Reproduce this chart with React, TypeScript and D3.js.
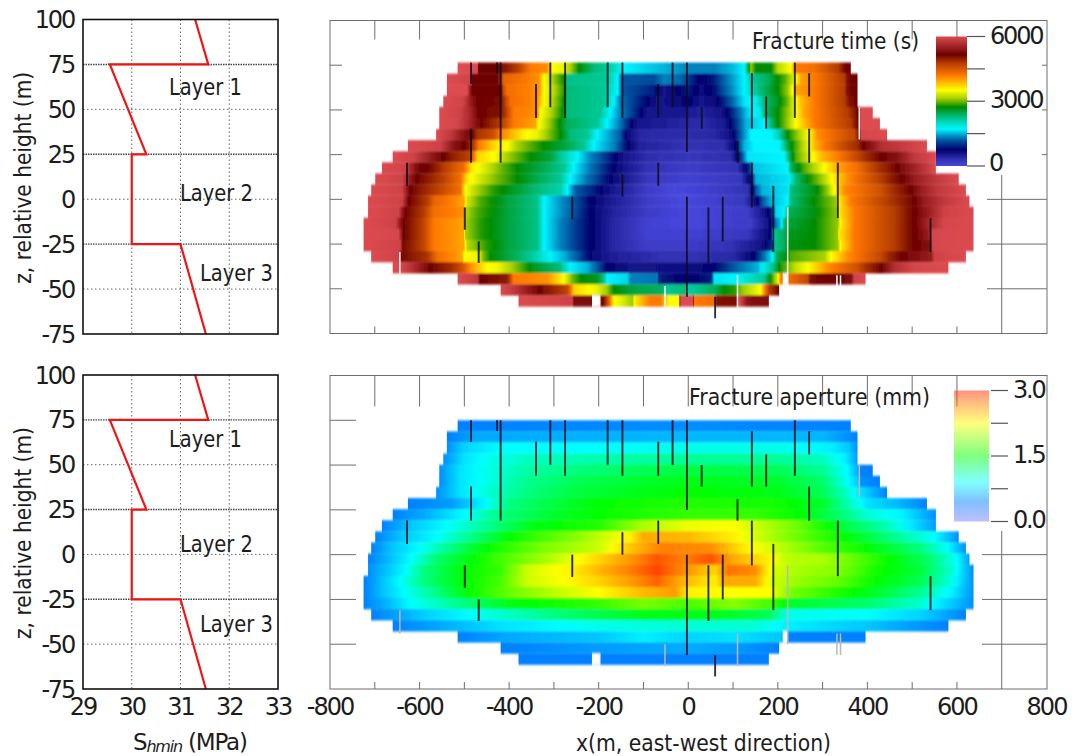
import React from "react";
import * as d3 from "d3";

// ---------- Left panels: minimum horizontal stress profile ----------
const stressMPa = [31.3, 31.57, 29.55, 30.3, 30, 30, 31, 31.52];
const stressZ = [100, 75, 75, 25, 25, -25, -25, -75];
const stressTicks = [29, 30, 31, 32, 33];
const zTicks = [100, 75, 50, 25, 0, -25, -50, -75];
const layerBoundaries = [75, 25, -25];
const layerNames = ["Layer 1", "Layer 2", "Layer 3"];

// ---------- Map axes ----------
const xTicksLabelled = [-800, -600, -400, -200, 0, 200, 400, 600, 800];
const xTicksAll = [-700, -600, -500, -400, -300, -200, -100, 0, 100, 200, 300, 400, 500, 600];

// z of the row edges of the stimulated-volume grid
const rowEdges = [75, 68.8, 62.6, 56.4, 50.2, 44, 37.8, 31.6, 25.4, 19.2, 13, 6.8, 0.6, -5.6, -11.8, -18, -24.2, -30.4, -36.6, -42.8, -49, -55.2, -61.4];

// ---------- Fracture time: [x, t, x, t, ...] per grid row ----------
const timeRows: number[][] = [
  [-515,6000,-471,6000,-468,5200,-427,5200,-382,4500,-352,3900,-315,3800,-304,3300,-278,3200,-263,2950,-244,2500,-211,2100,-181,2000,-144,1500,-54,1300,0,1150,58,1150,95,1300,125,1500,140,2900,151,2500,185,2500,200,3000,229,3300,240,3900,282,4000,334,4500,349,5100,363,5300],
  [-539,6000,-483,5900,-483,5200,-427,5200,-412,4100,-334,3800,-322,3300,-303,2950,-277,2500,-270,2050,-181,2000,-158,1500,-147,1000,-77,950,-54,1150,-17,1050,0,900,28,650,58,800,95,1200,125,1500,143,2000,178,2200,215,2700,229,3000,240,3300,252,3700,282,3900,349,4500,356,5100,378,5200],
  [-539,6000,-494,6000,-483,5200,-420,5200,-412,4300,-405,4000,-334,3800,-322,3300,-300,3000,-278,2600,-270,2100,-188,2000,-158,1500,-147,1000,-77,800,-54,500,0,800,28,600,58,750,95,1150,125,1500,143,1900,162,2100,200,2500,222,2900,233,3300,240,3700,282,3900,349,4500,356,5100,378,5200],
  [-547,6000,-501,5900,-486,5500,-471,5200,-420,5100,-408,4400,-397,4000,-337,3800,-322,3300,-304,3000,-282,2600,-270,2100,-188,2000,-166,1500,-151,1100,-106,800,-69,500,-32,550,0,700,28,500,58,600,95,1000,125,1450,151,1600,170,2100,200,2400,222,2800,240,3300,252,3600,282,3900,349,4500,360,5000,378,5200],
  [-556,6000,-509,5900,-486,5600,-468,5200,-420,5000,-405,4400,-390,3900,-337,3800,-330,3300,-308,3000,-285,2600,-270,2100,-196,2000,-174,1500,-151,1150,-114,800,-92,500,0,450,28,350,73,500,110,1000,133,1400,159,1600,170,2100,200,2500,229,3000,240,3300,259,3700,282,3900,356,4500,374,5000,378,5200,386,6000,412,6000],
  [-556,6000,-516,5950,-494,5700,-468,5300,-434,4700,-412,4400,-390,3900,-341,3700,-334,3300,-315,3000,-293,2600,-270,2200,-203,2000,-181,1500,-158,1200,-136,850,-114,500,0,300,28,250,80,450,114,1000,129,1300,170,1500,181,2000,200,2500,222,2900,240,3300,267,3700,282,3900,363,4500,378,5100,386,6000,428,6000],
  [-563,6000,-531,5800,-501,5400,-483,5200,-471,4600,-434,4300,-420,3900,-382,3500,-360,3300,-337,3200,-315,2900,-285,2500,-263,2100,-226,2000,-203,1500,-181,1300,-151,1000,-136,600,-106,300,0,250,58,300,95,550,125,1200,140,1500,185,1500,203,1900,222,2500,244,2900,270,3300,289,3800,371,4400,382,5000,386,5950,444,6000],
  [-626,6000,-553,5900,-524,5400,-498,5200,-479,4500,-468,3900,-427,3400,-405,3300,-382,2950,-322,2500,-278,2300,-233,2000,-211,1500,-166,1150,-136,700,-106,350,0,200,80,250,106,700,125,1300,147,1500,203,1500,222,2300,240,2700,267,3200,282,3600,304,3900,378,4700,390,5200,431,5700,533,6000],
  [-660,6000,-613,5900,-576,5500,-546,5200,-524,4800,-486,4400,-471,3500,-434,3300,-405,2950,-352,2500,-308,2300,-248,1500,-218,1150,-174,800,-144,500,-92,250,0,150,95,250,121,1000,133,1450,214,1500,226,2200,240,2700,267,3100,297,3600,334,3900,378,4400,431,5200,468,5400,505,5800,553,6000],
  [-684,6000,-632,5900,-606,5300,-576,5100,-546,4500,-501,4000,-483,3400,-449,3100,-420,2800,-382,2500,-337,2300,-278,2000,-256,1500,-218,1100,-181,800,-144,500,-92,200,0,100,110,200,137,900,147,1350,222,1500,229,2200,259,2700,289,3100,311,3400,334,3700,378,4000,431,4700,475,5300,520,5700,553,6000],
  [-699,6000,-639,5900,-613,5300,-576,4800,-509,4000,-494,3400,-464,3100,-427,2800,-382,2500,-330,2200,-285,2000,-263,1500,-226,1100,-188,800,-151,500,-92,150,0,50,118,150,144,900,151,1300,222,1450,240,2100,282,2700,304,3000,326,3400,356,3800,431,4500,468,5100,505,5500,553,5800,604,6000],
  [-708,6000,-639,5900,-621,5200,-576,4600,-509,4000,-498,3300,-471,2950,-434,2600,-397,2400,-337,2100,-285,1900,-270,1500,-251,1000,-211,800,-166,450,-92,100,-32,0,28,50,133,200,151,1000,166,1300,222,1450,229,2100,289,2500,311,2900,326,3300,348,3800,431,4300,475,4900,520,5500,557,5800,620,6000],
  [-715,6000,-639,5900,-624,5200,-583,4500,-568,4100,-501,3700,-494,3100,-464,2700,-405,2300,-337,2050,-322,1500,-285,1200,-256,1000,-218,700,-166,400,-92,100,-25,0,0,0,125,150,151,600,166,1000,185,1300,222,1500,229,2100,282,2500,330,2900,337,3400,363,3900,446,4500,490,5000,527,5500,572,5800,628,6000],
  [-715,6000,-647,5900,-632,5200,-591,4500,-568,4000,-501,3800,-498,3000,-471,2700,-405,2300,-337,2050,-322,1500,-285,1200,-251,950,-218,700,-166,350,-92,100,0,0,133,100,170,500,185,800,196,1400,214,1500,222,2200,282,2450,334,2900,337,3400,371,3900,461,4500,497,5100,535,5500,572,5900,637,6000],
  [-725,6000,-654,5900,-636,5200,-591,4400,-568,3900,-501,3700,-498,2950,-464,2600,-405,2300,-337,2050,-322,1500,-285,1150,-251,900,-218,700,-166,300,-92,50,0,0,140,100,177,500,192,1000,207,1400,214,2100,222,2300,282,2500,334,2900,341,3400,371,3900,461,4500,497,5100,535,5600,572,5950,637,6000],
  [-725,6000,-647,5950,-636,5200,-591,4400,-568,3900,-501,3700,-498,2950,-464,2600,-405,2300,-337,2050,-322,1500,-285,1150,-251,900,-218,700,-166,300,-92,50,0,50,133,150,185,700,192,2000,214,2200,222,2400,282,2500,334,2900,337,3400,371,3900,461,4500,497,5100,535,5500,546,5950,637,6000],
  [-725,6000,-643,5900,-636,5100,-591,4400,-568,3900,-501,3700,-494,3000,-449,2600,-405,2300,-337,2050,-322,1500,-285,1150,-251,900,-218,700,-166,300,-92,100,0,100,95,200,162,500,188,900,192,2000,214,2200,222,2450,282,2500,334,2900,341,3400,371,3900,461,4500,497,5100,539,5400,546,5950,637,6000],
  [-708,6000,-647,5900,-639,5100,-583,4600,-561,4000,-505,3700,-501,3300,-468,3200,-457,2800,-442,2500,-405,2300,-352,2000,-308,1500,-278,1300,-248,1000,-211,600,-166,400,-54,200,0,200,103,300,147,700,170,1100,188,1500,196,2200,222,2500,229,2700,304,2950,319,3300,356,3800,431,4400,475,5200,542,5500,550,5900,620,6000],
  [-660,6000,-639,5950,-606,5600,-568,5100,-531,4700,-501,4200,-486,3800,-449,3300,-427,3250,-390,2900,-345,2400,-287,2100,-263,1500,-226,1300,-181,700,-129,500,0,550,58,700,117,1100,155,1300,192,2100,207,2600,222,2800,244,3100,267,3300,311,3800,378,4300,431,5200,460,5700,505,5950,581,6000],
  [-515,6000,-471,5800,-464,5200,-405,4900,-390,3900,-315,3800,-278,3300,-259,2800,-240,2500,-203,2400,-188,2000,-181,1500,-136,1400,-129,1150,-69,1100,-65,800,0,650,51,800,58,1450,103,1500,170,2000,188,2700,200,3200,207,3900,223,4000,267,4400,274,5100,363,5300,371,5900,396,6000],
  [-419,6000,-390,5800,-330,5200,-322,5000,-270,4400,-255,3500,-203,3200,-181,2900,-166,2500,-129,2300,-62,2200,-47,2000,-10,2100,0,1950,58,2200,80,2500,103,2600,121,2900,162,3300,181,4500,203,5200],
  [-379,6000,-259,5900,-255,5300,-215,5300,-194,5400,-181,4400,-166,3300,-151,3200,-125,2900,-118,3400,-85,3900,-62,3900,-43,3300,-21,3300,-17,6000,10,6000,13,3900,58,4000,65,5000,103,5100,114,6000,133,5400,180,5300],
];

// ---------- Fracture aperture: [x, mm, x, mm, ...] per grid row ----------
const apertureRows: number[][] = [
  [-515,.45,0,.5,363,.45],
  [-539,.45,-470,.6,0,.65,300,.65,340,.55,378,.45],
  [-539,.5,-500,.75,-420,.9,-200,.9,0,.95,200,.95,320,.85,360,.7,378,.5],
  [-547,.5,-500,.8,-440,.95,-350,1.05,-200,1.1,0,1.15,200,1.15,300,1.05,350,.85,378,.55],
  [-556,.5,-510,.8,-450,.95,-370,1.1,-250,1.2,-100,1.3,0,1.35,200,1.3,300,1.15,355,.9,378,.6,386,.45,412,.45],
  [-556,.5,-510,.8,-450,.95,-370,1.15,-250,1.3,-100,1.4,0,1.45,200,1.4,300,1.25,350,.95,380,.7,386,.5,428,.45],
  [-563,.5,-510,.8,-450,1,-360,1.2,-250,1.35,-100,1.45,0,1.5,200,1.45,300,1.3,350,1.05,385,.8,410,.65,444,.45],
  [-626,.45,-530,.55,-460,.85,-400,1.2,-300,1.35,-200,1.5,-100,1.55,0,1.6,200,1.55,300,1.4,370,1,400,.8,470,.65,533,.45],
  [-660,.45,-590,.6,-500,.9,-420,1.2,-300,1.4,-150,1.55,0,1.65,150,1.65,250,1.5,350,1.2,400,1,480,.85,553,.5],
  [-684,.45,-620,.7,-540,.9,-450,1.15,-350,1.45,-200,1.6,-100,2,0,2.2,100,2.25,150,2.1,250,1.8,350,1.35,450,1.05,553,.55],
  [-699,.45,-640,.7,-560,.9,-480,1.2,-400,1.5,-250,1.9,-130,2.3,-100,2.55,0,2.5,100,2.3,200,1.95,350,1.5,450,1.2,550,.9,604,.5],
  [-708,.45,-660,.7,-600,.9,-530,1.2,-450,1.5,-330,1.85,-200,2.1,-130,2.45,-60,2.7,50,2.65,130,2.3,190,2.1,300,1.75,400,1.5,520,1.2,580,.9,620,.5],
  [-715,.45,-670,.65,-620,.9,-560,1.25,-480,1.5,-400,1.75,-300,2.05,-260,2.2,-200,2.4,-120,2.65,-70,2.85,-10,2.7,50,2.85,100,2.55,180,2.3,220,2.05,300,2,350,1.85,450,1.5,540,1.25,600,.9,628,.55],
  [-715,.5,-670,.7,-630,.9,-590,1.2,-500,1.5,-420,1.65,-360,2.1,-320,2.2,-260,2.3,-200,2.5,-130,2.7,-70,2.9,-20,2.7,45,2.45,60,2.4,90,2.75,150,2.65,190,2.15,240,2,330,1.9,420,1.55,520,1.35,590,1,637,.5],
  [-725,.45,-680,.7,-635,.95,-590,1.2,-500,1.5,-420,1.7,-360,2.1,-300,2.2,-200,2.4,-130,2.6,-70,2.8,-20,2.55,60,2.3,80,2.55,150,2.55,190,2.1,240,1.95,330,1.8,420,1.5,520,1.3,590,.95,637,.5],
  [-725,.45,-680,.7,-635,.9,-560,1.2,-480,1.55,-400,1.8,-300,2.05,-200,2.25,-100,2.5,-30,2.6,0,2.3,80,2.25,180,2.25,230,1.85,330,1.6,420,1.4,520,1.15,590,.85,637,.5],
  [-725,.45,-670,.65,-620,.9,-500,1.2,-400,1.45,-200,1.65,-100,1.85,0,1.7,100,1.9,180,1.7,230,1.4,400,1.25,520,1,637,.5],
  [-708,.45,-640,.6,-580,.75,-460,.95,-300,1.2,-100,1.45,50,1.45,180,1.3,220,.95,400,.9,520,.75,620,.45],
  [-660,.45,-550,.6,-420,.8,-200,.95,0,1,150,1,220,.85,400,.7,500,.55,581,.45],
  [-515,.45,-400,.6,-200,.7,-100,.85,0,.75,100,.8,208,.7,224,.45,396,.45],
  [-419,.45,-200,.55,0,.6,100,.55,203,.45],
  [-379,.45,-215,.45,-196,.45,180,.45],
];

// ---------- Natural fractures: x, z top, z bottom ----------
const darkFractures = [
  [-485,75,63],[-485,38,19],[-419,75,19],[-427,75,69],[-308,75,50],[-275,75,44],[-340,63,44],[-180,75,50],[-147,75,44],
  [-35,75,50],[-67,63,44],[-3,75,25],[-67,19,6],[-147,12.5,0],[-259,0,-12.5],[-499,-6,-18.5],[-468,-25,-37],[-628,19,6],
  [-3,0,-56],[30,50,38],[110,31,19],[142,69,38],[174,56,38],[238,75,44],[270,69,56],[270,38,19],[334,19,-12],[142,19,-6],
  [77,0,-25],[45,-6,-37],[190,6,-31],[541,-12,-31],[60,-56,-68],
];
const paleFractures = [
  [-644,-31,-44],[-52,-50,-62],[222,-6,-50],[110,-44,-62],[332,-44,-56],[340,-44,-56],[382,50,32],
];
// Holes in the grid: row index, x from, x to
const gridGaps = [[19,211,223],[21,-215,-196]];

// ---------- Colour scales ----------
const timeLevels = [0,200,700,950,1150,1500,2000,2500,2950,3300,3900,4500,5200,6000];
const timeColors = ["#4646dc","#3232b4","#00006e","#004a9a","#0082be","#00f5ff","#00c896","#008c00","#aad200","#ffff00","#ff7800","#b43c00","#6e0000","#dc4b50"];
const timeBarOffsets = [0,.05,.125,.19,.225,.285,.365,.455,.525,.585,.7,.795,.86,1];
const apertureLevels = [0,.45,.9,1.5,2.25,2.7,3];
const apertureColors = ["#8080ff","#0080ff","#00ffff","#00ff00","#ffff00","#ff8000","#ff2400"];
const timeBarTicks = [0,1500,3000,4500,6000];
const apertureBarTicks = [0,.75,1.5,2.25,3];

const FONT = "'DejaVu Sans', sans-serif";
const INK = "#1c1c1c";
const FRAME = "#6e6e6e";
const xMap = d3.scaleLinear().domain([-800, 800]).range([330, 1046.5]);

function Label(p: any) {
  const { children, ...rest } = p;
  return <text fontFamily={FONT} fill={INK} lengthAdjust="spacingAndGlyphs" {...rest}>{children}</text>;
}

function StressPanel({ top, bottom, labelY, showX }: any) {
  const x = d3.scaleLinear().domain([29, 33]).range([83, 278]);
  const y = d3.scaleLinear().domain([-75, 100]).range([bottom, top]);
  const line = d3.line<number>().x((d) => x(d)).y((_, i) => y(stressZ[i]));
  return (
    <g>
      {stressTicks.slice(1, -1).map((t) => (
        <line key={t} x1={x(t)} x2={x(t)} y1={top} y2={bottom} stroke="#666" strokeDasharray="1.5 2.5" />
      ))}
      {zTicks.slice(1, -1).map((t) => (
        <line key={t} x1={83} x2={278} y1={y(t)} y2={y(t)}
          stroke={layerBoundaries.includes(t) ? "#444" : "#666"}
          strokeWidth={layerBoundaries.includes(t) ? 1.4 : 1}
          strokeDasharray={layerBoundaries.includes(t) ? "1.5 1" : "1.5 2.5"} />
      ))}
      <path d={line(stressMPa) as string} fill="none" stroke="#f01414" strokeWidth={2.2} strokeLinejoin="miter" />
      <rect x={83} y={top} width={195} height={bottom - top} fill="none" stroke="#111" strokeWidth={1.6} />
      {zTicks.map((t) => (
        <Label key={t} x={74} y={y(t) + 8.5} fontSize={24} textAnchor="end" letterSpacing={-2.2}>{t}</Label>
      ))}
      <Label transform={`translate(31,${(top + bottom) / 2 + 1}) rotate(-90)`} fontSize={23} textAnchor="middle" textLength={212}>z, relative height (m)</Label>
      {layerNames.map((n, i) => (
        <Label key={n} x={[169, 180, 200][i]} y={labelY[i]} fontSize={23} textLength={73}>{n}</Label>
      ))}
      {showX && stressTicks.map((t) => (
        <Label key={t} x={x(t)} y={715} fontSize={24} textAnchor="middle" letterSpacing={-2}>{t}</Label>
      ))}
    </g>
  );
}

function MapPanel({ id, top, bottom, rows, levels, colors, shift, fractureDark, fracturePale, leftTick, topTick, vLineFrom, rightTickFrom, shortRight }: any) {
  const y = d3.scaleLinear().domain([-75, 100]).range([bottom, top]);
  const colour = d3.scaleLinear<string>().domain(levels).range(colors).interpolate(d3.interpolateRgb);
  return (
    <g>
      <defs>
        <filter id={`${id}-soft`} x="-2%" y="-2%" width="104%" height="104%">
          <feGaussianBlur stdDeviation="0.7 0.8" />
        </filter>
        {rows.map((r: number[], i: number) => {
          const x0 = r[0];
          const xN = r[r.length - 2];
          const stops: { o: number; c: string }[] = [];
          for (let k = 0; k + 3 < r.length; k += 2) {
            const v = d3.interpolateNumber(r[k + 1], r[k + 3]);
            const px = d3.interpolateNumber(r[k], r[k + 2]);
            for (const u of [0, 0.2, 0.4, 0.6, 0.8, 1]) {
              stops.push({ o: (px(u) - x0) / (xN - x0), c: colour(v(u)) });
            }
          }
          return (
            <linearGradient key={i} id={`${id}-row${i}`} x1="0" x2="1" y1="0" y2="0">
              {stops.map((s, j) => <stop key={j} offset={s.o} stopColor={s.c} />)}
            </linearGradient>
          );
        })}
      </defs>
      <g filter={`url(#${id}-soft)`}>
        {rows.map((r: number[], i: number) => (
          <rect key={i} x={xMap(r[0])} width={xMap(r[r.length - 2]) - xMap(r[0])}
            y={y(rowEdges[i] + shift)} height={y(rowEdges[i + 1] + shift) - y(rowEdges[i] + shift) + 0.2}
            fill={`url(#${id}-row${i})`} />
        ))}
        {gridGaps.map(([row, a, b], i) => (
          <rect key={i} x={xMap(a)} width={xMap(b) - xMap(a)} y={y(rowEdges[row] + shift)}
            height={y(rowEdges[row + 1] + shift) - y(rowEdges[row] + shift)} fill="#fff" />
        ))}
      </g>
      {fracturePale.map(([fx, z1, z2]: number[], i: number) => (
        <line key={i} x1={xMap(fx)} x2={xMap(fx)} y1={y(z1 + shift)} y2={y(z2 + shift)} stroke={id === "time" ? "#fff" : "#b9b9b9"} strokeWidth={1.5} />
      ))}
      {fractureDark.map(([fx, z1, z2]: number[], i: number) => (
        <line key={i} x1={xMap(fx)} x2={xMap(fx)} y1={y(z1 + shift)} y2={y(z2 + shift)} stroke="#0d0d1c" strokeOpacity={0.85} strokeWidth={1.9} />
      ))}
      <rect x={330} y={top} width={717} height={bottom - top} fill="none" stroke={FRAME} strokeWidth={1} />
      {xTicksAll.map((t) => (
        <g key={t} stroke={FRAME}>
          <line x1={xMap(t)} x2={xMap(t)} y1={top} y2={top + topTick} />
          <line x1={xMap(t)} x2={xMap(t)} y1={bottom} y2={bottom - 7} />
        </g>
      ))}
      {[75, 50, 25, 0, -25, -50].map((t) => (
        <line key={t} x1={330} x2={330 + leftTick} y1={y(t)} y2={y(t)} stroke={FRAME} />
      ))}
      {[0, -25, -50].map((t) => (
        <line key={t} x1={rightTickFrom} x2={1047} y1={y(t)} y2={y(t)} stroke={FRAME} />
      ))}
      {shortRight && [75, 50, 25].map((t) => (
        <line key={t} x1={1042} x2={1047} y1={y(t)} y2={y(t)} stroke={FRAME} />
      ))}
      <line x1={xMap(700)} x2={xMap(700)} y1={vLineFrom} y2={bottom} stroke={FRAME} />
    </g>
  );
}

function ColorBar({ id, x0, x1, y0, y1, stopsAt, colors, ticks, max, opacity, tickX0, tickX1, labels }: any) {
  const y = d3.scaleLinear().domain([0, max]).range([y1, y0]);
  return (
    <g>
      <defs>
        <linearGradient id={id} x1="0" x2="0" y1="1" y2="0">
          {colors.map((c: string, i: number) => <stop key={i} offset={stopsAt[i]} stopColor={c} />)}
        </linearGradient>
      </defs>
      <rect x={x0} y={y0} width={x1 - x0} height={y1 - y0} fill={`url(#${id})`} opacity={opacity} />
      {ticks.map((t: number) => (
        <line key={t} x1={tickX0} x2={tickX1} y1={y(t)} y2={y(t)} stroke="#555" strokeWidth={1.2} />
      ))}
      {labels.map(([t, s, lx, ly]: any) => (
        <Label key={s} x={lx} y={ly} fontSize={24} letterSpacing={-2.2}>{s}</Label>
      ))}
    </g>
  );
}

export default function App() {
  return (
    <svg width={1072} height={756} style={{ position: "absolute", left: 0, top: 0, display: "block", background: "#fff" }}>
      <StressPanel top={19.5} bottom={334} labelY={[95, 201, 281]} showX={false} />
      <StressPanel top={375} bottom={689} labelY={[447, 552, 632]} showX={true} />
      <Label x={133} y={750} fontSize={23} letterSpacing={-1.2}>
        S<tspan fontSize={16} fontStyle="italic" dy={2}>hmin</tspan><tspan dy={-2}> (MPa)</tspan>
      </Label>

      <MapPanel id="time" top={20.5} bottom={333.5} rows={timeRows} levels={timeLevels} colors={timeColors} shift={1.5}
        fractureDark={darkFractures} fracturePale={paleFractures} leftTick={12} topTick={19} vLineFrom={175} rightTickFrom={987} shortRight={true} />
      <MapPanel id="aperture" top={375.5} bottom={689} rows={apertureRows} levels={apertureLevels} colors={apertureColors} shift={0}
        fractureDark={darkFractures} fracturePale={paleFractures} leftTick={26} topTick={31} vLineFrom={531} rightTickFrom={982} shortRight={false} />

      {xTicksLabelled.map((t) => (
        <Label key={t} x={xMap(t)} y={715} fontSize={24} textAnchor="middle" letterSpacing={-2}>{t}</Label>
      ))}
      <Label x={576} y={751} fontSize={23} textLength={255}>x(m, east-west direction)</Label>

      <Label x={752} y={49} fontSize={23} textLength={167}>Fracture time (s)</Label>
      <Label x={689} y={405} fontSize={23} textLength={241}>Fracture aperture (mm)</Label>

      <ColorBar id="timeBar" x0={936} x1={967} y0={36.5} y1={166} stopsAt={timeBarOffsets} colors={timeColors}
        ticks={timeBarTicks} max={6000} opacity={1} tickX0={967} tickX1={985}
        labels={[[6000, "6000", 990, 44], [3000, "3000", 990, 108], [0, "0", 989, 171]]} />
      <ColorBar id="apBar" x0={954} x1={989} y0={390.5} y1={521.5} stopsAt={apertureLevels.map((v) => v / 3)} colors={apertureColors}
        ticks={apertureBarTicks} max={3} opacity={0.5} tickX0={991} tickX1={1008}
        labels={[[3, "3.0", 1013, 398], [1.5, "1.5", 1013, 463], [0, "0.0", 1013, 528]]} />
    </svg>
  );
}
